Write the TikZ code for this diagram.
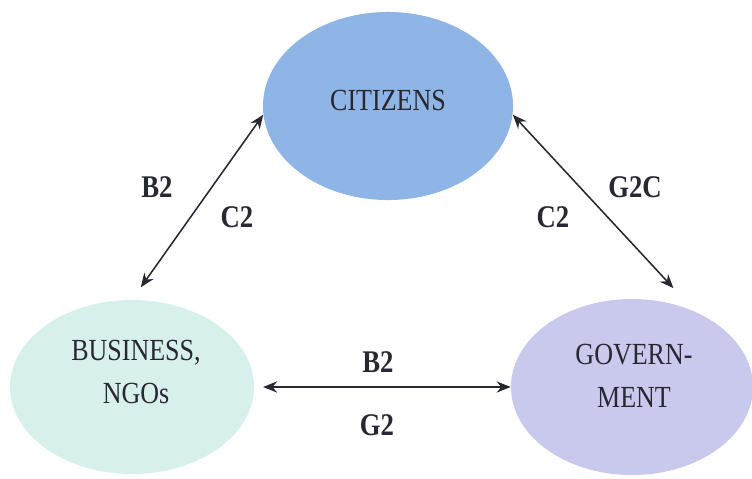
\documentclass[tikz,border=0pt]{standalone}
\usepackage{fontspec}
\setmainfont{Liberation Serif}
\usetikzlibrary{shapes.geometric, arrows.meta}

\definecolor{citblue}{RGB}{143,181,230}
\definecolor{bizmint}{RGB}{216,240,235}
\definecolor{govlilac}{RGB}{201,201,238}
\definecolor{inkgray}{RGB}{40,40,50}

% taller letters, as in the scanned figure
\newcommand{\tallword}[1]{\scalebox{1}[1.18]{#1}}

\tikzset{
	party/.style={ellipse, inner sep=0pt},
	partytext/.style={font=\fontsize{18.5}{31}\selectfont, text=inkgray, align=center},
	link/.style={line width=1.1pt, draw=inkgray, {Stealth[length=10pt,width=8pt]}-{Stealth[length=10pt,width=8pt]}},
	tag/.style={font=\bfseries\fontsize{19}{22}\selectfont, text=inkgray}
}

\begin{document}
\begin{tikzpicture}[x=0.025cm, y=-0.025cm]
	
	\useasboundingbox (0,0) rectangle (752,479);
	
	% Parties
	\node[party, fill=citblue, minimum width=6.25cm, minimum height=4.7cm] (cit) at (388,106) {};
	\node[party, fill=bizmint, minimum width=6.1cm, minimum height=4.35cm] (biz) at (132,387) {};
	\node[party, fill=govlilac, minimum width=6.05cm, minimum height=4.4cm] (gov) at (632,387) {};
	
	% Names
	\node[partytext] (citname) at (388,100) {\tallword{CITIZENS}};
	\node[partytext] (bizname) at (136,372) {\tallword{BUSINESS,}\\\tallword{NGOs}};
	\node[partytext] (govname) at (634,376) {\tallword{GOVERN-}\\\tallword{MENT}};
	
	% Links
	\draw[link, shorten >=3.8mm] (cit.184) -- (biz.north);
	\draw[link, shorten >=8mm] (cit.-4) -- (gov.50);
	\draw[link, shorten <=2.2mm] (biz.east) -- (gov.west);
	
	% Tags
	\node[tag] (bcleft) at (157,187) {\tallword{B2}};
	\node[tag] (cbleft) at (237,217) {\tallword{C2}};
	\node[tag] (gcright) at (635,187) {\tallword{G2C}};
	\node[tag] (cgright) at (553,217) {\tallword{C2}};
	\node[tag] (bgtop) at (378,362) {\tallword{B2}};
	\node[tag] (gbbottom) at (377,425) {\tallword{G2}};
	
\end{tikzpicture}
\end{document}
